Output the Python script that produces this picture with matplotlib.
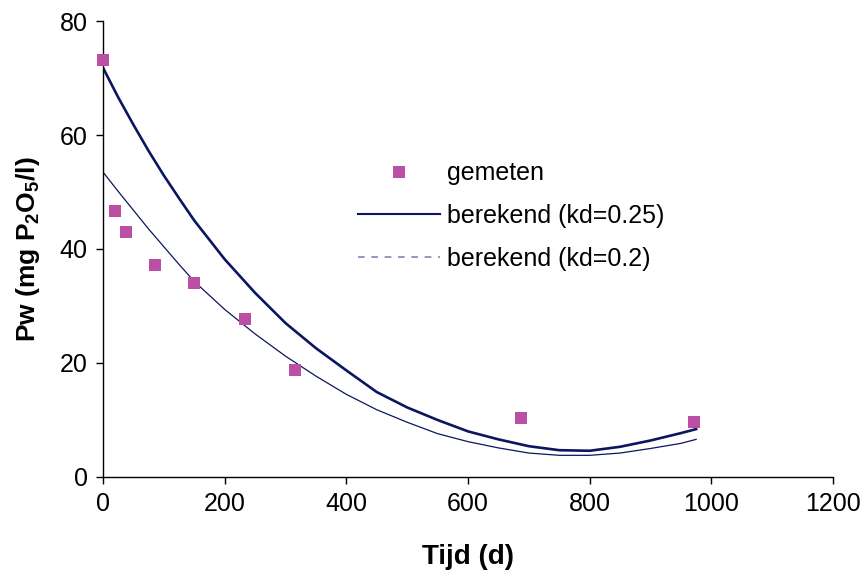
import matplotlib.pyplot as plt
from matplotlib.lines import Line2D

plt.rcParams['font.family'] = ['Liberation Sans', 'DejaVu Sans']
plt.rcParams['mathtext.default'] = 'regular'

# ---------------- DATA ----------------
# measured points
t_meas = [0, 20, 37, 86, 149, 233, 316, 687, 972]
pw_meas = [73.2, 46.7, 42.9, 37.2, 34.1, 27.8, 18.7, 10.3, 9.6]

# calculated curves
t_calc = [0, 25, 50, 75, 100, 125, 150, 200, 250, 300, 350, 400, 450, 500, 550,
          600, 650, 700, 750, 800, 850, 900, 950, 975]
pw_kd025 = [71.8, 66.6, 61.8, 57.2, 52.9, 48.9, 45.0, 38.2, 32.3, 27.0, 22.6, 18.7,
            14.9, 12.2, 10.0, 8.0, 6.6, 5.4, 4.7, 4.6, 5.3, 6.4, 7.7, 8.4]
pw_kd02 = [53.5, 50.1, 46.8, 43.5, 40.4, 37.3, 34.3, 29.4, 25.1, 21.2, 17.7, 14.5,
           11.8, 9.6, 7.6, 6.2, 5.1, 4.2, 3.8, 3.8, 4.2, 5.0, 5.9, 6.6]

navy = "#0c1660"
pink = "#bb4fa3"

# ---------------- PLOT ----------------
fig = plt.figure(figsize=(8.62, 5.79), dpi=100)
ax = fig.add_axes([0.1195, 0.1762, 0.8469, 0.7875])

ax.plot(t_calc, pw_kd025, color=navy, lw=1.9, zorder=2)
ax.plot(t_calc, pw_kd02, color=navy, lw=0.9, zorder=2)
ax.plot(t_meas, pw_meas, ls="none", marker="s", ms=8.5, color=pink,
        markeredgewidth=0, zorder=3, clip_on=False)

ax.set_xlim(0, 1200)
ax.set_ylim(0, 80)
ax.set_xticks(range(0, 1201, 200))
ax.set_yticks(range(0, 81, 20))

for s in ["top", "right"]:
    ax.spines[s].set_visible(False)
for s in ["left", "bottom"]:
    ax.spines[s].set_linewidth(1.0)
ax.tick_params(direction="out", length=5, width=1, labelsize=18, pad=6)

ax.set_xlabel("Tijd (d)", fontsize=20, fontweight="bold", labelpad=20)
ax.set_ylabel("Pw (mg P$_2$O$_5$/l)", fontsize=19, fontweight="bold", labelpad=13)

# ---------------- LEGEND ----------------
handles = [
    Line2D([], [], ls="none", marker="s", ms=8, color=pink, markeredgewidth=0),
    Line2D([], [], color=navy, lw=1.5),
    Line2D([], [], color="#8088b8", lw=1.2, ls=(0, (4, 4))),
]
labels = ["gemeten", "berekend (kd=0.25)", "berekend (kd=0.2)"]
ax.legend(handles, labels, frameon=False, fontsize=18,
          loc="upper left", bbox_to_anchor=(0.318, 0.7415),
          handlelength=3.3, handletextpad=0.28, labelspacing=0.75)

fig.savefig("out.png", dpi=100)
